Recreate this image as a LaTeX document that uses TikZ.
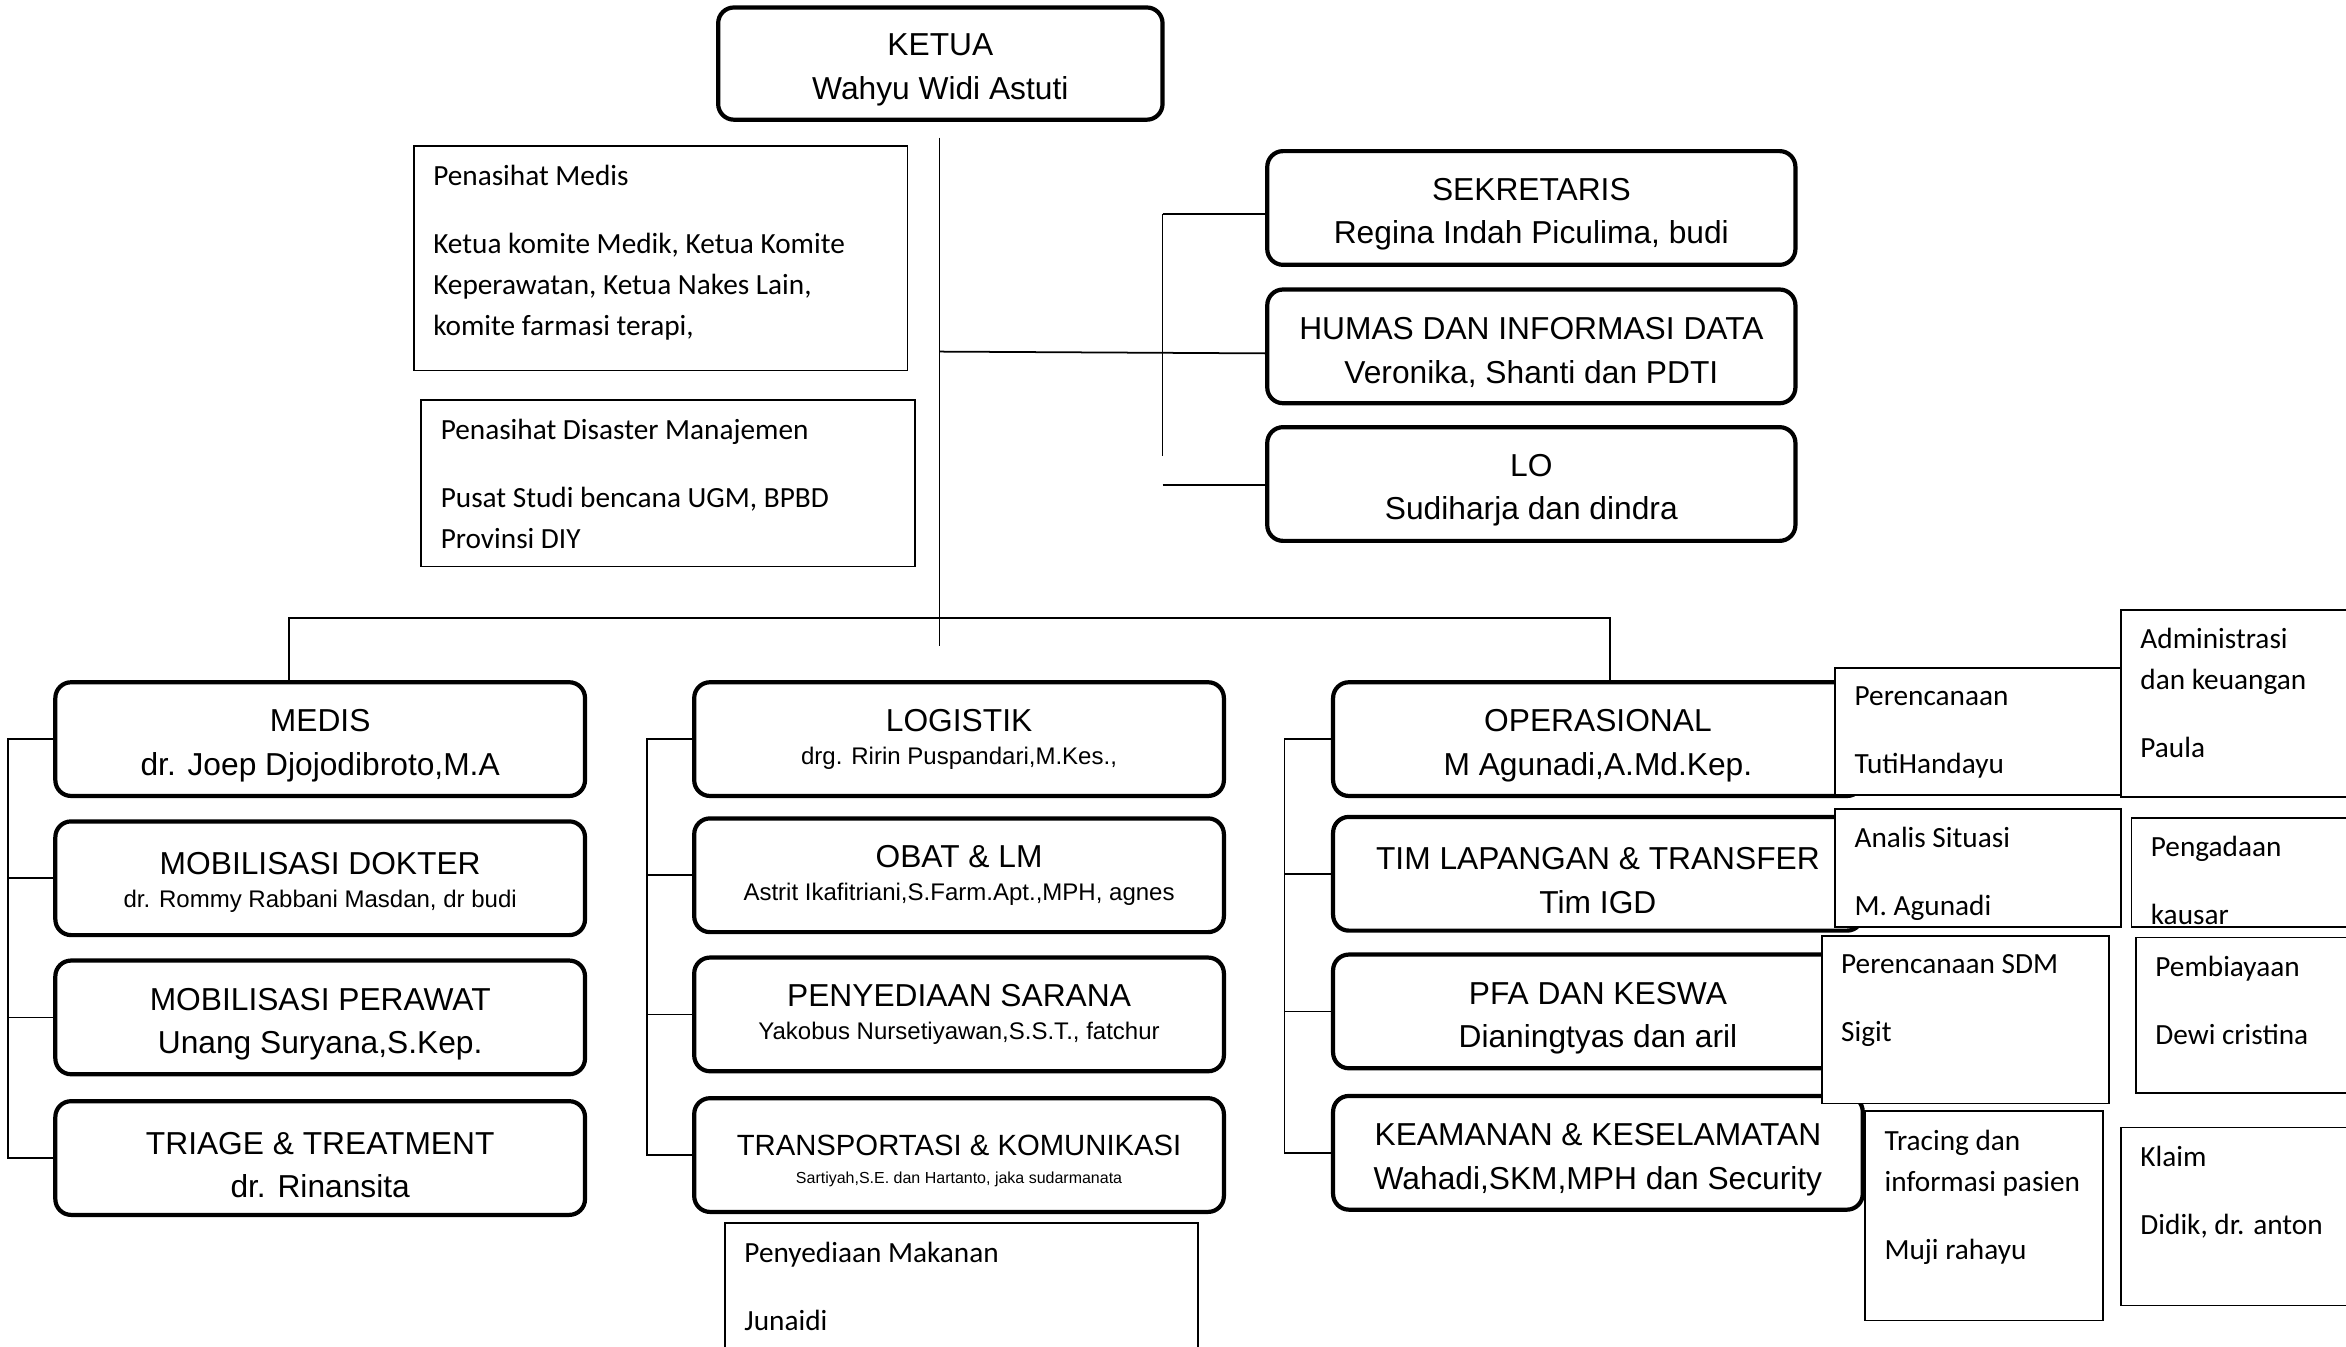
\documentclass[tikz,border=0pt]{standalone}
\usepackage{fontspec}
\newfontfamily\arial{Liberation Sans}
\newfontfamily\calibri{Carlito}
\newcommand{\boxtop}[1][10.2pt]{\rule{0pt}{#1}}
\begin{document}
\begin{tikzpicture}[x=0.015cm,y=-0.015cm,line width=0.5pt,
	unit/.style={draw,line width=1.2pt,rounded corners=4.5pt,minimum width=5.31cm,minimum height=1.14cm,inner sep=0pt,align=center,font=\arial\fontsize{9.05}{12.4}\selectfont},
	info/.style={draw,fill=white,anchor=north west,inner sep=0pt},
	infotext/.style={anchor=north west,align=left,inner xsep=0.195cm,inner ysep=0.1875cm,font=\calibri\fontsize{8.35}{11.7}\selectfont,execute at begin node=\strut}]
	\useasboundingbox (0,0) rectangle (1568,900);
	% top
	\node[unit,minimum width=4.455cm,minimum height=1.125cm] (ketua) at (628.5,42.5) {\boxtop[9.9pt]KETUA\\Wahyu Widi Astuti};
	\node[unit,minimum width=5.295cm] (sekretaris) at (1023.5,139) {\boxtop[9.9pt]SEKRETARIS\\Regina Indah Piculima, budi};
	\node[unit,minimum width=5.295cm] (humas) at (1023.5,231.5) {\boxtop[9.9pt]HUMAS DAN INFORMASI DATA\\Veronika, Shanti dan PDTI};
	\node[unit,minimum width=5.295cm] (lo) at (1023.5,323.5) {\boxtop[9.9pt]LO\\Sudiharja dan dindra};
	\node[info,minimum width=4.95cm,minimum height=2.25cm] (pmedis) at (276,97) {};
	\node[infotext] (pmedis-t) at (pmedis.north west) {Penasihat Medis\\[7.7pt]Ketua komite Medik, Ketua Komite\\Keperawatan, Ketua Nakes Lain,\\komite farmasi terapi,};
	\node[info,minimum width=4.95cm,minimum height=1.665cm] (pdisaster) at (281,267) {};
	\node[infotext] (pdisaster-t) at (pdisaster.north west) {Penasihat Disaster Manajemen\\[7.7pt]Pusat Studi bencana UGM, BPBD\\Provinsi DIY};
	\coordinate (trunk) at (628,92);
	\coordinate (trunk-end) at (628,432);
	\draw (trunk) -- (trunk-end);
	\coordinate (hj) at (628,235);
	\draw (hj) -- ([yshift=-2pt]humas.west);
	\coordinate (rb-top) at (777,143);
	\coordinate (rb-bot) at (777,305);
	\coordinate (rb-lo) at (777,324);
	\draw (rb-top) -- (rb-bot);
	\draw (rb-top) -- (rb-top -| sekretaris.west);
	\draw (rb-lo) -- (rb-lo -| lo.west);
	% medis
	\node[unit] (medis) at (214,494) {\boxtop MEDIS\\dr. Joep Djojodibroto,M.A};
	\node[unit] (dokter) at (214,587) {\boxtop[8.9pt]MOBILISASI DOKTER\\[-3pt]{\fontsize{6.85}{12.4}\selectfont dr. Rommy Rabbani Masdan, dr budi}};
	\node[unit] (perawat) at (214,680) {\boxtop MOBILISASI PERAWAT\\Unang Suryana,S.Kep.};
	\node[unit] (triage) at (214,774) {\boxtop TRIAGE \& TREATMENT\\dr. Rinansita};
	% logistik
	\node[unit] (logistik) at (641,494) {LOGISTIK\\[-3pt]{\fontsize{6.85}{12.4}\selectfont drg. Ririn Puspandari,M.Kes.,}};
	\node[unit] (obat) at (641,585) {OBAT \& LM\\[-3pt]{\fontsize{6.85}{12.4}\selectfont Astrit Ikafitriani,S.Farm.Apt.,MPH, agnes}};
	\node[unit] (sarana) at (641,678) {PENYEDIAAN SARANA\\[-3pt]{\fontsize{6.85}{12.4}\selectfont Yakobus Nursetiyawan,S.S.T., fatchur}};
	\node[unit] (transport) at (641,772) {\boxtop[9.2pt]{\fontsize{8.35}{12.4}\selectfont TRANSPORTASI \& KOMUNIKASI}\\[-4.5pt]{\fontsize{4.56}{12.4}\selectfont Sartiyah,S.E. dan Hartanto, jaka sudarmanata}};
	\node[info,minimum width=4.74cm,minimum height=1.5cm] (makanan) at (484,817) {};
	\node[infotext] (makanan-t) at (makanan.north west) {Penyediaan Makanan\\[7.7pt]Junaidi};
	% operasional
	\node[unit] (operasional) at (1068,494) {\boxtop OPERASIONAL\\M Agunadi,A.Md.Kep.};
	\node[unit] (timlap) at (1068,584) {\boxtop TIM LAPANGAN \& TRANSFER\\Tim IGD};
	\node[unit] (pfa) at (1068,676) {\boxtop PFA DAN KESWA\\Dianingtyas dan aril};
	\node[unit] (keamanan) at (1068,770.5) {\boxtop KEAMANAN \& KESELAMATAN\\Wahadi,SKM,MPH dan Security};
	\coordinate (bus-l) at (193,413);
	\coordinate (bus-r) at (1076,413);
	\draw (bus-l |- medis.north) -- (bus-l) -- (bus-r) -- (bus-r |- operasional.north);
	\draw (medis.west) -- ++(-30,0) |- (triage.west);
	\foreach \b in {dokter,perawat} \draw (\b.west) -- ++(-30,0);
	\draw (logistik.west) -- ++(-30,0) |- (transport.west);
	\foreach \b in {obat,sarana} \draw (\b.west) -- ++(-30,0);
	\draw (operasional.west) -- ++(-31,0) |- (keamanan.west);
	\foreach \b in {timlap,pfa} \draw (\b.west) -- ++(-31,0);
	% sub units
	\node[info,minimum width=2.88cm,minimum height=1.275cm] (perencanaan) at (1226,446) {};
	\node[infotext] (perencanaan-t) at (perencanaan.north west) {Perencanaan\\[7.7pt]TutiHandayu};
	\node[info,minimum width=2.6cm,minimum height=1.875cm] (admin) at (1417,407) {};
	\node[infotext] (admin-t) at (admin.north west) {Administrasi\\dan keuangan\\[7.7pt]Paula};
	\node[info,minimum width=2.865cm,minimum height=1.185cm] (analis) at (1226,540) {};
	\begin{scope}
		\clip (analis.north west) rectangle (analis.south east);
		\node[infotext] (analis-t) at (analis.north west) {Analis Situasi\\[7.7pt]M. Agunadi};
	\end{scope}
	\node[info,minimum width=2.6cm,minimum height=1.095cm] (pengadaan) at (1424,546) {};
	\begin{scope}
		\clip (pengadaan.north west) rectangle (pengadaan.south east);
		\node[infotext] (pengadaan-t) at (pengadaan.north west) {Pengadaan\\[7.7pt]kausar};
	\end{scope}
	\node[info,minimum width=2.88cm,minimum height=1.68cm] (sdm) at (1217,625) {};
	\node[infotext] (sdm-t) at (sdm.north west) {Perencanaan SDM\\[7.7pt]Sigit};
	\node[info,minimum width=2.6cm,minimum height=1.56cm] (pembiayaan) at (1427,626) {};
	\node[infotext] (pembiayaan-t) at (pembiayaan.north west) {Pembiayaan\\[7.7pt]Dewi cristina};
	\node[info,minimum width=2.385cm,minimum height=2.1cm] (tracing) at (1246,742) {};
	\node[infotext] (tracing-t) at (tracing.north west) {Tracing dan\\informasi pasien\\[7.7pt]Muji rahayu};
	\node[info,minimum width=2.6cm,minimum height=1.785cm] (klaim) at (1417,753) {};
	\node[infotext] (klaim-t) at (klaim.north west) {Klaim\\[7.7pt]Didik, dr. anton};
\end{tikzpicture}
\end{document}
